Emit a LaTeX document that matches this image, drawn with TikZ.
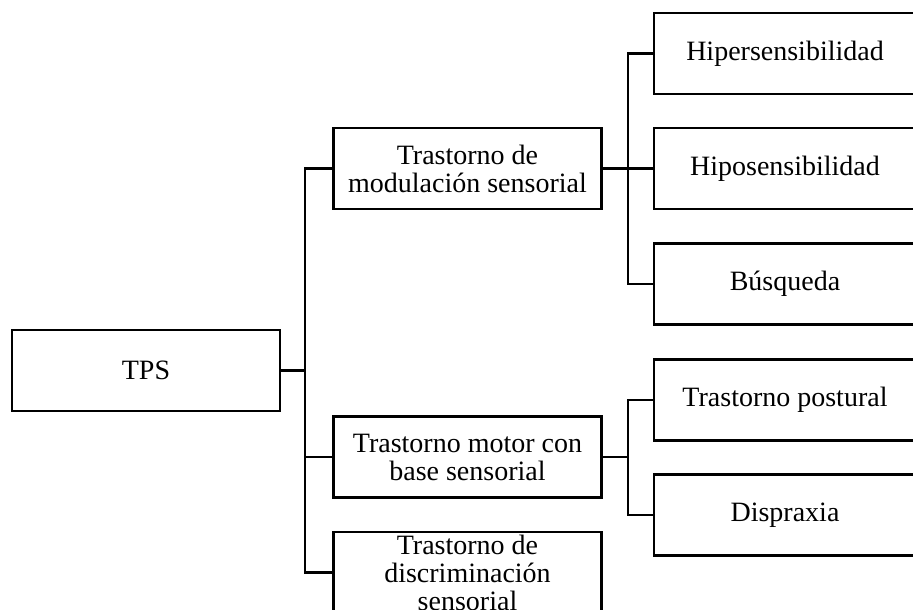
\documentclass[tikz,border=0pt]{standalone}
\usepackage{fontspec}
\setmainfont{Liberation Serif}
\tikzset{
  caja/.style={draw,rectangle,line width=1.4pt,align=center,inner sep=0pt,
    minimum width=134pt,minimum height=40.5pt,
    font=\fontsize{14}{14}\selectfont},
  hoja/.style={caja,minimum width=131pt},
  rama/.style={line width=1.1pt}
}
\begin{document}
\begin{tikzpicture}[x=0.5pt,y=-0.5pt]
      \useasboundingbox (0,0) rectangle (913,609);
      \clip (0,0) rectangle (913,609);
      \node[caja](tps) at (146,370.5){TPS};
      \node[caja](mod) at (467.5,168.5){Trastorno de\\modulación sensorial};
      \node[caja](motor) at (467.5,457){Trastorno motor con\\base sensorial};
      \node[caja](disc) at (467.5,572.5){Trastorno de\\discriminación\\sensorial};
      \node[hoja](hiper) at (785,53.5){Hipersensibilidad};
      \node[hoja](hipo) at (785,168.5){Hiposensibilidad};
      \node[hoja](busq) at (785,284){Búsqueda};
      \node[hoja](post) at (785,400){Trastorno postural};
      \node[hoja](disp) at (785,515){Dispraxia};
      \coordinate (j1) at (305,370.5);
      \coordinate (j2) at (628,168.5);
      \coordinate (j3) at (628,457);
      \draw[rama] (tps.east) -- (j1);
      \draw[rama] (mod.west) -| (j1) |- (disc.west);
      \draw[rama] (motor.west) -- (j1 |- motor.west);
      \draw[rama] (mod.east) -- (j2);
      \draw[rama] (hiper.west) -| (j2) |- (busq.west);
      \draw[rama] (hipo.west) -- (j2);
      \draw[rama] (motor.east) -- (j3);
      \draw[rama] (post.west) -| (j3) |- (disp.west);
    \end{tikzpicture}
\end{document}
